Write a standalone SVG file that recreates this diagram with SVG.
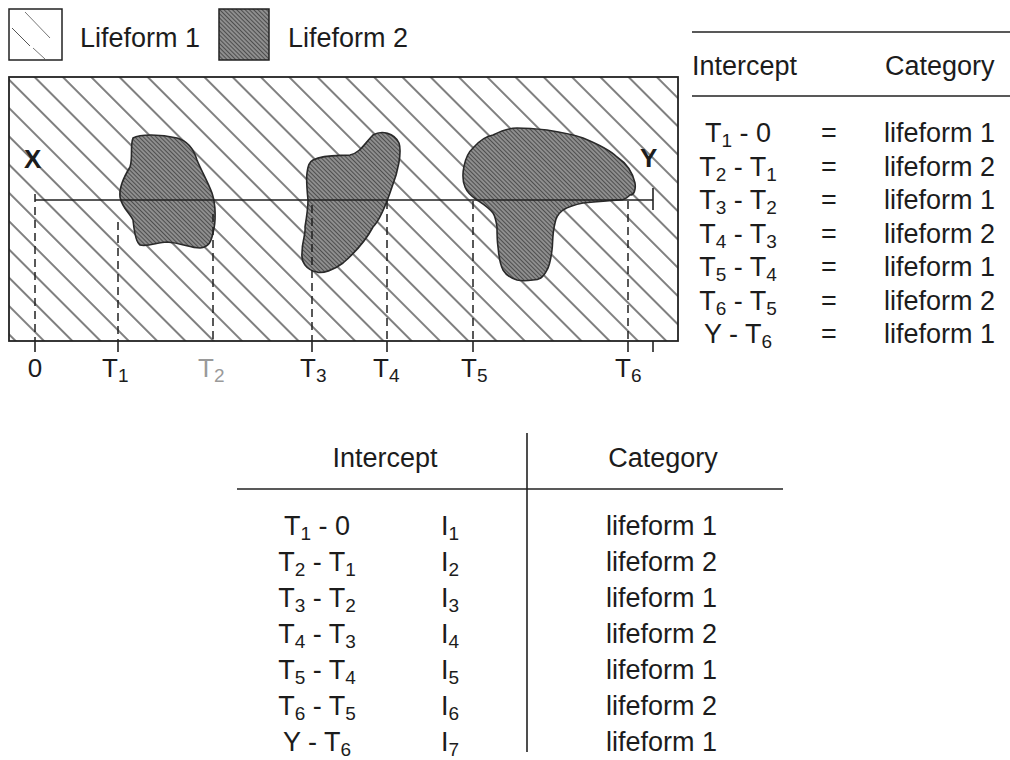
<svg xmlns="http://www.w3.org/2000/svg" width="1010" height="760" viewBox="0 0 1010 760">
<style>
text{font-family:"Liberation Sans",Arial,sans-serif;fill:#1c1c1c}
.t27{font-size:27px}
.t26{font-size:26px}
.sub{font-size:19px}
.bold{font-weight:bold}
.faint{fill:#9a9a9a}
.blob{fill:url(#dark);stroke:#2a2a2a;stroke-width:1.6}
.dash{stroke:#222;stroke-width:1.5;stroke-dasharray:8 5;fill:none}
.tick{stroke:#222;stroke-width:1.6}
.rule{stroke:#222;stroke-width:1.6}
</style>
<defs>
<pattern id="hatch" patternUnits="userSpaceOnUse" width="10" height="20" patternTransform="rotate(45)">
<line x1="0" y1="10" x2="10" y2="10" stroke="#3a3a3a" stroke-width="1.3"/>
</pattern>
<pattern id="dark" patternUnits="userSpaceOnUse" width="3" height="3" patternTransform="rotate(45)">
<rect width="3" height="3" fill="#8e8e8e"/>
<line x1="0" y1="1.5" x2="3" y2="1.5" stroke="#4e4e4e" stroke-width="1"/>
</pattern>
</defs>
<rect width="1010" height="760" fill="#ffffff"/>

<g id="legend">
<g id="legend-lifeform1">
<rect x="9" y="9" width="53" height="51" fill="#fff" stroke="#222" stroke-width="1.5"/>
<line x1="12" y1="28" x2="30" y2="46" stroke="#555" stroke-width="1"/>
<line x1="25" y1="12" x2="50" y2="38" stroke="#777" stroke-width="1"/>
<line x1="33" y1="48" x2="45" y2="59" stroke="#777" stroke-width="1"/>
<text class="t27" x="80" y="47">Lifeform 1</text>
</g>
<g id="legend-lifeform2">
<rect x="219" y="9" width="50" height="51" fill="url(#dark)" stroke="#222" stroke-width="1.5"/>
<text class="t27" x="288" y="47">Lifeform 2</text>
</g>
</g>

<g id="plot">
<rect x="9" y="77" width="669" height="264" fill="url(#hatch)" stroke="#222" stroke-width="1.8"/>
<g id="blob1">
<path class="blob" d="M133,138 C140,134 160,134 177,138 C188,141 194,150 197,160 C200,168 208,182 212,193 C216,205 216,222 213,233 C211,242 209,247 200,248 C190,248 182,243 167,242 C158,242 148,247 140,245 C135,242 134,228 133,220 C130,213 122,208 120,197 C119,188 125,175 130,167 C133,158 130,145 133,138 Z"/>
</g>
<g id="blob2">
<path class="blob" d="M313,160 C325,154 340,156 350,155 C360,153 365,143 373,135 C382,130 394,133 399,143 C402,152 398,172 392,187 C386,205 380,220 373,227 C366,240 358,250 343,263 C334,270 322,274 317,272 C306,270 301,262 302,253 C302,240 306,235 305,227 C307,215 308,205 308,200 C307,190 306,180 307,173 C308,166 309,162 313,160 Z"/>
</g>
<g id="blob3">
<path class="blob" d="M465,187 C460,175 465,155 473,148 C480,140 487,136 493,135 C503,130 510,128 517,128 C528,128 538,129 547,130 C560,132 572,134 583,138 C600,145 610,150 617,157 C626,163 632,170 635,183 C636,190 634,195 630,195 C626,199 622,200 620,200 C605,201 594,202 583,203 C573,205 568,207 563,210 C557,215 556,218 555,223 C552,235 553,243 552,250 C551,258 550,265 547,270 C543,278 539,280 533,280 C526,281 521,281 517,280 C510,278 506,275 503,270 C499,262 499,255 498,247 C497,240 497,233 497,227 C496,220 495,216 493,213 C488,207 483,204 477,200 C471,196 467,192 465,187 Z"/>
</g>
</g>

<g id="connectors">
<line class="rule" x1="35" y1="200" x2="653" y2="200"/>
<line class="tick" x1="653" y1="188" x2="653" y2="210"/>
<line class="dash" x1="35" y1="194" x2="35" y2="341"/>
<line class="dash" x1="118" y1="222" x2="118" y2="341"/>
<line class="dash" x1="213" y1="214" x2="213" y2="341"/>
<line class="dash" x1="312" y1="205" x2="312" y2="341"/>
<line class="dash" x1="387" y1="201" x2="387" y2="341"/>
<line class="dash" x1="473" y1="201" x2="473" y2="341"/>
<line class="dash" x1="628" y1="201" x2="628" y2="341"/>
<line class="tick" x1="35" y1="341" x2="35" y2="352"/>
<line class="tick" x1="118" y1="341" x2="118" y2="352"/>
<line class="tick" x1="312" y1="341" x2="312" y2="352"/>
<line class="tick" x1="387" y1="341" x2="387" y2="352"/>
<line class="tick" x1="473" y1="341" x2="473" y2="352"/>
<line class="tick" x1="628" y1="341" x2="628" y2="352"/>
<line class="tick" x1="653" y1="341" x2="653" y2="352"/>
</g>

<g id="plot-labels">
<text class="t26 bold" x="24" y="168">X</text>
<text class="t26 bold" x="640" y="167">Y</text>
<text class="t26" x="35" y="377" text-anchor="middle">0</text>
<text class="t26" x="102" y="377">T<tspan class="sub" dy="5">1</tspan></text>
<text class="t26 faint" x="198" y="377">T<tspan class="sub" dy="5">2</tspan></text>
<text class="t26" x="300" y="377">T<tspan class="sub" dy="5">3</tspan></text>
<text class="t26" x="373" y="377">T<tspan class="sub" dy="5">4</tspan></text>
<text class="t26" x="461" y="377">T<tspan class="sub" dy="5">5</tspan></text>
<text class="t26" x="615" y="377">T<tspan class="sub" dy="5">6</tspan></text>
</g>

<g id="table-top">
<line class="rule" x1="692" y1="32" x2="1010" y2="32"/>
<text class="t27" x="692" y="75">Intercept</text>
<text class="t27" x="885" y="75">Category</text>
<line class="rule" x1="692" y1="96" x2="1010" y2="96"/>
<g class="t27">
<text x="738" y="142" text-anchor="middle">T<tspan class="sub" dy="5">1</tspan><tspan dy="-5"> - 0</tspan></text>
<text x="738" y="175.5" text-anchor="middle">T<tspan class="sub" dy="5">2</tspan><tspan dy="-5"> - T</tspan><tspan class="sub" dy="5">1</tspan></text>
<text x="738" y="209" text-anchor="middle">T<tspan class="sub" dy="5">3</tspan><tspan dy="-5"> - T</tspan><tspan class="sub" dy="5">2</tspan></text>
<text x="738" y="242.5" text-anchor="middle">T<tspan class="sub" dy="5">4</tspan><tspan dy="-5"> - T</tspan><tspan class="sub" dy="5">3</tspan></text>
<text x="738" y="276" text-anchor="middle">T<tspan class="sub" dy="5">5</tspan><tspan dy="-5"> - T</tspan><tspan class="sub" dy="5">4</tspan></text>
<text x="738" y="309.5" text-anchor="middle">T<tspan class="sub" dy="5">6</tspan><tspan dy="-5"> - T</tspan><tspan class="sub" dy="5">5</tspan></text>
<text x="738" y="343" text-anchor="middle">Y - T<tspan class="sub" dy="5">6</tspan></text>
<text x="829" y="142" text-anchor="middle">=</text>
<text x="829" y="175.5" text-anchor="middle">=</text>
<text x="829" y="209" text-anchor="middle">=</text>
<text x="829" y="242.5" text-anchor="middle">=</text>
<text x="829" y="276" text-anchor="middle">=</text>
<text x="829" y="309.5" text-anchor="middle">=</text>
<text x="829" y="343" text-anchor="middle">=</text>
<text x="884" y="142">lifeform 1</text>
<text x="884" y="175.5">lifeform 2</text>
<text x="884" y="209">lifeform 1</text>
<text x="884" y="242.5">lifeform 2</text>
<text x="884" y="276">lifeform 1</text>
<text x="884" y="309.5">lifeform 2</text>
<text x="884" y="343">lifeform 1</text>
</g>
</g>

<g id="table-bottom">
<text class="t27" x="385" y="467" text-anchor="middle">Intercept</text>
<text class="t27" x="663" y="467" text-anchor="middle">Category</text>
<line class="rule" x1="237" y1="489" x2="783" y2="489"/>
<line class="rule" x1="527" y1="433" x2="527" y2="752"/>
<g class="t27">
<text x="317" y="535" text-anchor="middle">T<tspan class="sub" dy="5">1</tspan><tspan dy="-5"> - 0</tspan></text>
<text x="317" y="571" text-anchor="middle">T<tspan class="sub" dy="5">2</tspan><tspan dy="-5"> - T</tspan><tspan class="sub" dy="5">1</tspan></text>
<text x="317" y="607" text-anchor="middle">T<tspan class="sub" dy="5">3</tspan><tspan dy="-5"> - T</tspan><tspan class="sub" dy="5">2</tspan></text>
<text x="317" y="643" text-anchor="middle">T<tspan class="sub" dy="5">4</tspan><tspan dy="-5"> - T</tspan><tspan class="sub" dy="5">3</tspan></text>
<text x="317" y="679" text-anchor="middle">T<tspan class="sub" dy="5">5</tspan><tspan dy="-5"> - T</tspan><tspan class="sub" dy="5">4</tspan></text>
<text x="317" y="715" text-anchor="middle">T<tspan class="sub" dy="5">6</tspan><tspan dy="-5"> - T</tspan><tspan class="sub" dy="5">5</tspan></text>
<text x="317" y="751" text-anchor="middle">Y - T<tspan class="sub" dy="5">6</tspan></text>
<text x="441" y="535">I<tspan class="sub" dy="5">1</tspan></text>
<text x="441" y="571">I<tspan class="sub" dy="5">2</tspan></text>
<text x="441" y="607">I<tspan class="sub" dy="5">3</tspan></text>
<text x="441" y="643">I<tspan class="sub" dy="5">4</tspan></text>
<text x="441" y="679">I<tspan class="sub" dy="5">5</tspan></text>
<text x="441" y="715">I<tspan class="sub" dy="5">6</tspan></text>
<text x="441" y="751">I<tspan class="sub" dy="5">7</tspan></text>
<text x="606" y="535">lifeform 1</text>
<text x="606" y="571">lifeform 2</text>
<text x="606" y="607">lifeform 1</text>
<text x="606" y="643">lifeform 2</text>
<text x="606" y="679">lifeform 1</text>
<text x="606" y="715">lifeform 2</text>
<text x="606" y="751">lifeform 1</text>
</g>
</g>
</svg>
